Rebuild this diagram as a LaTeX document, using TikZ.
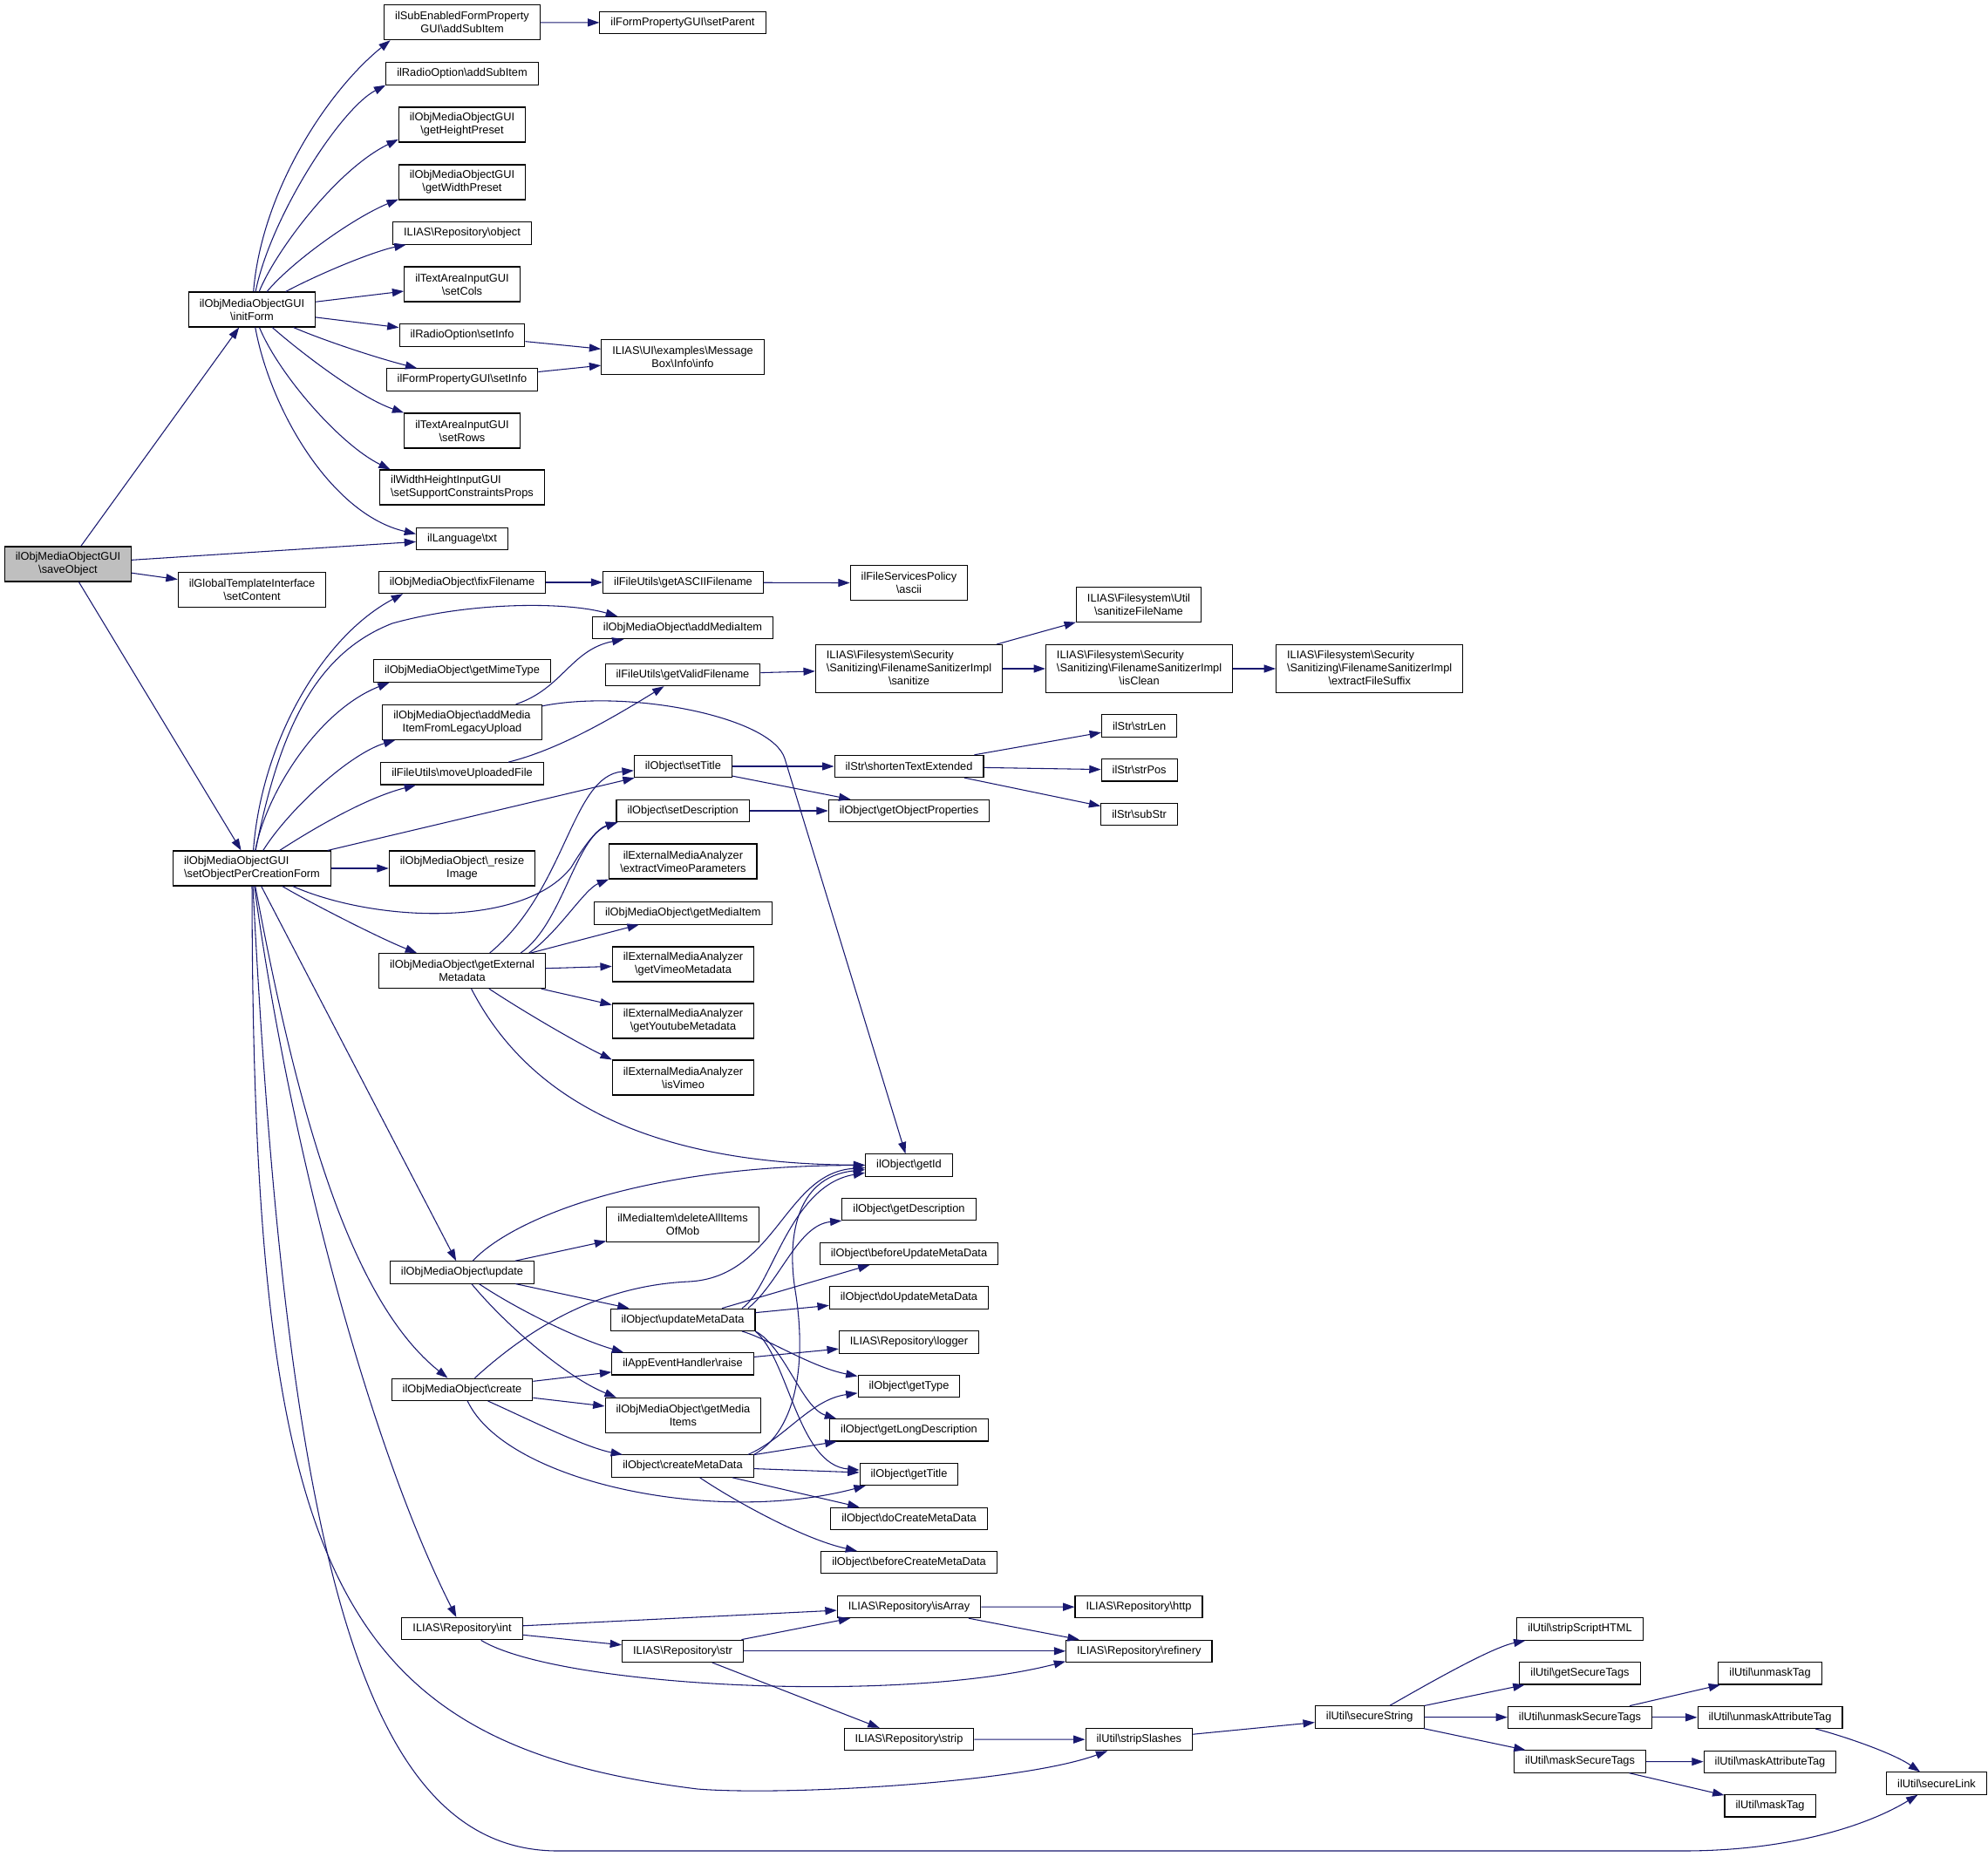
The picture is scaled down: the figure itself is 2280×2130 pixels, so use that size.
\documentclass[tikz,border=0pt]{standalone}
\usepackage{fontspec}
\setsansfont{Liberation Sans}
\usetikzlibrary{arrows.meta}
\definecolor{edgeblue}{HTML}{191970}
\definecolor{callerfill}{HTML}{BFBFBF}
\newcommand{\bs}{\textbackslash}
\newcommand{\threeline}[3]{\begin{tabular}{@{}l@{}}#1\\#2\\\multicolumn{1}{@{}c@{}}{#3}\end{tabular}}
\begin{document}
\begin{tikzpicture}
[x=0.75pt,y=-0.75pt,>={Triangle[length=10pt,width=6.8pt]},
 fn/.style={draw=black,fill=white,line width=0.8pt,inner xsep=9.4pt,inner ysep=0pt,minimum height=19pt,
   font=\sffamily\fontsize{9.6}{11.25}\selectfont,align=center},
 two/.style={minimum height=30pt},
 three/.style={minimum height=41.25pt},
 call/.style={->,draw=edgeblue,line width=0.8pt},]
\useasboundingbox (0,0) rectangle (2280,2130);

% callers
\node (saveObj) at (78,647)[fn,two,fill=callerfill] {ilObjMediaObjectGUI\\\bs saveObject};
\node (initForm) at (289,355)[fn,two] {ilObjMediaObjectGUI\\\bs initForm};
\node (setContent) at (289,676.5)[fn,two] {ilGlobalTemplateInterface\\\bs setContent};
\node (creationForm) at (289,996)[fn,two,align=left] {ilObjMediaObjectGUI\\\bs setObjectPerCreationForm};

% initForm column
\node (subItem) at (530,25.7)[fn,two] {ilSubEnabledFormProperty\\GUI\bs addSubItem};
\node (radioSubItem) at (530,84.5)[fn] {ilRadioOption\bs addSubItem};
\node (heightPreset) at (530,143)[fn,two] {ilObjMediaObjectGUI\\\bs getHeightPreset};
\node (widthPreset) at (530,209)[fn,two] {ilObjMediaObjectGUI\\\bs getWidthPreset};
\node (repObject) at (530,267.5)[fn] {ILIAS\bs Repository\bs object};
\node (setCols) at (530,326)[fn,two] {ilTextAreaInputGUI\\\bs setCols};
\node (radioInfo) at (530,384.5)[fn] {ilRadioOption\bs setInfo};
\node (formInfo) at (530,435.5)[fn] {ilFormPropertyGUI\bs setInfo};
\node (setRows) at (530,494)[fn,two] {ilTextAreaInputGUI\\\bs setRows};
\node (constraints) at (530,559)[fn,two,align=left] {ilWidthHeightInputGUI\\\bs setSupportConstraintsProps};
\node (langTxt) at (530,618)[fn] {ilLanguage\bs txt};
\node (setParent) at (783,26)[fn] {ilFormPropertyGUI\bs setParent};
\node (msgInfo) at (783,409.5)[fn,two] {ILIAS\bs UI\bs examples\bs Message\\Box\bs Info\bs info};

% setObjectPerCreationForm column
\node (fixFilename) at (530,668)[fn] {ilObjMediaObject\bs fixFilename};
\node (mimeType) at (530,769.6)[fn] {ilObjMediaObject\bs getMimeType};
\node (legacyUpload) at (530,828.3)[fn,two] {ilObjMediaObject\bs addMedia\\ItemFromLegacyUpload};
\node (moveUpload) at (530,887.3)[fn] {ilFileUtils\bs moveUploadedFile};
\node (resize) at (530,996)[fn,two] {ilObjMediaObject\bs\_resize\\Image};
\node (extMeta) at (530,1113.6)[fn,two] {ilObjMediaObject\bs getExternal\\Metadata};
\node (update) at (530,1459.4)[fn] {ilObjMediaObject\bs update};
\node (create) at (530,1593.8)[fn] {ilObjMediaObject\bs create};
\node (repInt) at (530,1868.2)[fn] {ILIAS\bs Repository\bs int};

\node (asciiName) at (783.5,668)[fn] {ilFileUtils\bs getASCIIFilename};
\node (addItem) at (783,720)[fn] {ilObjMediaObject\bs addMediaItem};
\node (validName) at (783,774)[fn] {ilFileUtils\bs getValidFilename};
\node (setTitle) at (783.4,879)[fn] {ilObject\bs setTitle};
\node (setDesc) at (783.2,930)[fn] {ilObject\bs setDescription};
\node (vimeoParams) at (783.4,988)[fn,two] {ilExternalMediaAnalyzer\\\bs extractVimeoParameters};
\node (mediaItem) at (783.3,1047.4)[fn] {ilObjMediaObject\bs getMediaItem};
\node (vimeoMeta) at (783.5,1106)[fn,two] {ilExternalMediaAnalyzer\\\bs getVimeoMetadata};
\node (youtubeMeta) at (783.5,1171)[fn,two] {ilExternalMediaAnalyzer\\\bs getYoutubeMetadata};
\node (isVimeo) at (783.5,1236)[fn,two] {ilExternalMediaAnalyzer\\\bs isVimeo};
\node (deleteItems) at (783,1404.6)[fn,two] {ilMediaItem\bs deleteAllItems\\OfMob};
\node (updateMD) at (783,1513.8)[fn] {ilObject\bs updateMetaData};
\node (raise) at (783,1564.3)[fn] {ilAppEventHandler\bs raise};
\node (mediaItems) at (783.4,1623.3)[fn,two] {ilObjMediaObject\bs getMedia\\Items};
\node (createMD) at (783,1681.6)[fn] {ilObject\bs createMetaData};
\node (repStr) at (783,1893.8)[fn] {ILIAS\bs Repository\bs str};

\node (ascii) at (1042.5,668.7)[fn,two] {ilFileServicesPolicy\\\bs ascii};
\node (sanitize) at (1042.5,767)[fn,three] {\threeline{ILIAS\bs Filesystem\bs Security}{\bs Sanitizing\bs FilenameSanitizerImpl}{\bs sanitize}};
\node (shorten) at (1042.5,879)[fn] {ilStr\bs shortenTextExtended};
\node (objProps) at (1042.5,930)[fn] {ilObject\bs getObjectProperties};
\node (getId) at (1042.5,1336.5)[fn] {ilObject\bs getId};
\node (getDesc) at (1042.5,1387)[fn] {ilObject\bs getDescription};
\node (beforeUpdate) at (1042.5,1437.7)[fn] {ilObject\bs beforeUpdateMetaData};
\node (doUpdate) at (1042.5,1488.4)[fn] {ilObject\bs doUpdateMetaData};
\node (logger) at (1042.5,1539.4)[fn] {ILIAS\bs Repository\bs logger};
\node (getType) at (1042.5,1590)[fn] {ilObject\bs getType};
\node (longDesc) at (1042.5,1640.3)[fn] {ilObject\bs getLongDescription};
\node (getTitle) at (1042.5,1691)[fn] {ilObject\bs getTitle};
\node (doCreate) at (1042.5,1741.8)[fn] {ilObject\bs doCreateMetaData};
\node (beforeCreate) at (1042.5,1792.2)[fn] {ilObject\bs beforeCreateMetaData};
\node (isArray) at (1042.5,1843)[fn] {ILIAS\bs Repository\bs isArray};
\node (repStrip) at (1042.5,1995)[fn] {ILIAS\bs Repository\bs strip};

\node (sanitizeName) at (1306,693.7)[fn,two] {ILIAS\bs Filesystem\bs Util\\\bs sanitizeFileName};
\node (isClean) at (1306.6,767)[fn,three] {\threeline{ILIAS\bs Filesystem\bs Security}{\bs Sanitizing\bs FilenameSanitizerImpl}{\bs isClean}};
\node (strLen) at (1306.6,832.5)[fn] {ilStr\bs strLen};
\node (strPos) at (1306.6,883.3)[fn] {ilStr\bs strPos};
\node (subStr) at (1306.6,933.7)[fn] {ilStr\bs subStr};
\node (http) at (1306,1843.2)[fn] {ILIAS\bs Repository\bs http};
\node (refinery) at (1306.3,1893.8)[fn] {ILIAS\bs Repository\bs refinery};
\node (stripSlashes) at (1306.3,1995.2)[fn] {ilUtil\bs stripSlashes};
\node (suffix) at (1570.7,767)[fn,three] {\threeline{ILIAS\bs Filesystem\bs Security}{\bs Sanitizing\bs FilenameSanitizerImpl}{\bs extractFileSuffix}};
\node (secureString) at (1570.7,1969.5)[fn] {ilUtil\bs secureString};
\node (stripScript) at (1812,1868.5)[fn] {ilUtil\bs stripScriptHTML};
\node (secureTags) at (1812,1919.3)[fn] {ilUtil\bs getSecureTags};
\node (unmaskSecure) at (1812,1969.8)[fn] {ilUtil\bs unmaskSecureTags};
\node (maskSecure) at (1812,2020.5)[fn] {ilUtil\bs maskSecureTags};
\node (unmaskTag) at (2030,1919.3)[fn] {ilUtil\bs unmaskTag};
\node (unmaskAttr) at (2030,1969.8)[fn] {ilUtil\bs unmaskAttributeTag};
\node (maskAttr) at (2030,2020.7)[fn] {ilUtil\bs maskAttributeTag};
\node (maskTag) at (2030,2071.3)[fn] {ilUtil\bs maskTag};
\node (secureLink) at (2221,2045.5)[fn] {ilUtil\bs secureLink};

% calls from saveObject
\draw[call] (saveObj)--(initForm);
\draw[call] (saveObj)--(langTxt);
\draw[call] (saveObj)--(setContent);
\draw[call] (saveObj)--(creationForm);

% calls from initForm
\draw[call] (initForm) .. controls (300,220) and (375,105) .. (subItem.194);
\draw[call] (initForm) .. controls (310,250) and (390,125) .. (radioSubItem.south west);
\draw[call] (initForm) .. controls (315,290) and (385,195) .. (heightPreset.193);
\draw[call] (initForm) .. controls (335,300) and (405,250) .. (widthPreset.195);
\draw[call] (initForm) .. controls (370,312) and (430,288) .. (repObject);
\draw[call] (initForm)--(setCols);
\draw[call] (initForm)--(radioInfo);
\draw[call] (initForm) .. controls (370,390) and (430,410) .. (formInfo);
\draw[call] (initForm) .. controls (340,400) and (410,455) .. (setRows.north west);
\draw[call] (initForm) .. controls (320,430) and (390,510) .. (constraints.166);
\draw[call] (initForm) .. controls (310,470) and (380,590) .. (langTxt.174);
\draw[call] (subItem)--(setParent);
\draw[call] (radioInfo)--(msgInfo);
\draw[call] (formInfo)--(msgInfo);

% calls from setObjectPerCreationForm
\draw[call] (creationForm) .. controls (300,850) and (370,730) .. (fixFilename.191);
\draw[call] (creationForm) .. controls (320,840) and (360,750) .. (450,715) .. controls (540,690) and (650,690) .. (addItem.170);
\draw[call] (creationForm) .. controls (305,910) and (365,815) .. (mimeType.189);
\draw[call] (creationForm) .. controls (330,930) and (400,865) .. (legacyUpload.195);
\draw[call] (creationForm) .. controls (360,950) and (420,915) .. (moveUpload.194);
\draw[call] (creationForm)--(setTitle);
\draw[call] (creationForm)--(resize);
\draw[call] (creationForm) .. controls (430,1058) and (600,1065) .. (655,995) .. controls (670,970) and (685,950) .. (setDesc.190);
\draw[call] (creationForm) .. controls (355,1035) and (435,1076) .. (extMeta);
\draw[call] (creationForm)--(update);
\draw[call] (creationForm) .. controls (340,1270) and (400,1490) .. (create);
\draw[call] (creationForm) .. controls (330,1300) and (420,1650) .. (repInt);
\draw[call] (creationForm) .. controls (290,1800) and (380,2000) .. (800,2052) .. controls (900,2060) and (1170,2045) .. (stripSlashes);
\draw[call] (creationForm) .. controls (330,1800) and (420,2123) .. (640,2123) -- (1930,2123) .. controls (2050,2123) and (2140,2095) .. (secureLink);

\draw[call] (fixFilename)--(asciiName);
\draw[call] (asciiName)--(ascii);
\draw[call] (legacyUpload) .. controls (645,790) and (655,745) .. (addItem);
\draw[call] (legacyUpload) .. controls (720,790) and (885,822) .. (900,870) -- (getId);
\draw[call] (moveUpload) .. controls (640,860) and (700,825) .. (validName);
\draw[call] (validName)--(sanitize);
\draw[call] (sanitize)--(sanitizeName);
\draw[call] (sanitize)--(isClean);
\draw[call] (isClean)--(suffix);
\draw[call] (setTitle)--(shorten);
\draw[call] (setTitle)--(objProps);
\draw[call] (setDesc)--(objProps);
\draw[call] (shorten)--(strLen);
\draw[call] (shorten)--(strPos);
\draw[call] (shorten)--(subStr);

% calls from getExternalMetadata
\draw[call] (extMeta.33) .. controls (650,1020) and (655,890) .. (setTitle);
\draw[call] (extMeta.17) .. controls (645,1060) and (660,960) .. (setDesc.190);
\draw[call] (extMeta.15) .. controls (640,1070) and (670,1020) .. (vimeoParams.south west);
\draw[call] (extMeta)--(mediaItem);
\draw[call] (extMeta)--(vimeoMeta);
\draw[call] (extMeta)--(youtubeMeta);
\draw[call] (extMeta) .. controls (600,1160) and (660,1195) .. (isVimeo.north west);
\draw[call] (extMeta) .. controls (590,1230) and (700,1335) .. (getId);

% calls from update and create
\draw[call] (update) .. controls (585,1400) and (730,1337) .. (getId);
\draw[call] (update)--(deleteItems);
\draw[call] (update)--(updateMD);
\draw[call] (update) .. controls (590,1500) and (660,1535) .. (raise.169);
\draw[call] (update) .. controls (580,1520) and (650,1580) .. (mediaItems.165);
\draw[call] (create) .. controls (600,1530) and (680,1475) .. (790,1470) .. controls (890,1465) and (900,1345) .. (getId);
\draw[call] (create)--(raise);
\draw[call] (create)--(mediaItems);
\draw[call] (create) .. controls (600,1625) and (670,1660) .. (createMD);
\draw[call] (create) .. controls (580,1700) and (820,1750) .. (getTitle);
\draw[call] (raise)--(logger);

% calls from updateMetaData and createMetaData
\draw[call] (updateMD.11) .. controls (885,1478) and (905,1360) .. (getId);
\draw[call] (updateMD.10) .. controls (895,1470) and (915,1405) .. (getDesc.south west);
\draw[call] (updateMD)--(beforeUpdate);
\draw[call] (updateMD)--(doUpdate);
\draw[call] (updateMD.349) .. controls (880,1535) and (930,1568) .. (getType);
\draw[call] (updateMD.south east) .. controls (900,1545) and (920,1615) .. (longDesc.171);
\draw[call] (updateMD.351) .. controls (905,1560) and (915,1680) .. (getTitle);
\draw[call] (createMD.north east) .. controls (915,1640) and (925,1560) .. (912,1480) .. controls (903,1425) and (910,1350) .. (getId);
\draw[call] (createMD.10) .. controls (900,1650) and (930,1605) .. (getType);
\draw[call] (createMD)--(longDesc);
\draw[call] (createMD)--(getTitle);
\draw[call] (createMD)--(doCreate);
\draw[call] (createMD) .. controls (840,1720) and (920,1765) .. (beforeCreate);

% repository and ilUtil calls
\draw[call] (repInt)--(isArray);
\draw[call] (repInt)--(repStr);
\draw[call] (repInt) .. controls (640,1935) and (1030,1955) .. (refinery.188);
\draw[call] (repStr)--(isArray);
\draw[call] (repStr)--(refinery);
\draw[call] (repStr)--(repStrip);
\draw[call] (isArray)--(http);
\draw[call] (isArray)--(refinery);
\draw[call] (repStrip)--(stripSlashes);
\draw[call] (stripSlashes)--(secureString);
\draw[call] (secureString) .. controls (1640,1930) and (1710,1890) .. (stripScript);
\draw[call] (secureString)--(secureTags);
\draw[call] (secureString)--(unmaskSecure);
\draw[call] (secureString)--(maskSecure);
\draw[call] (unmaskSecure)--(unmaskTag);
\draw[call] (unmaskSecure)--(unmaskAttr);
\draw[call] (maskSecure)--(maskAttr);
\draw[call] (maskSecure)--(maskTag);
\draw[call] (unmaskAttr) .. controls (2110,1990) and (2170,2010) .. (secureLink);

\end{tikzpicture}
\end{document}
